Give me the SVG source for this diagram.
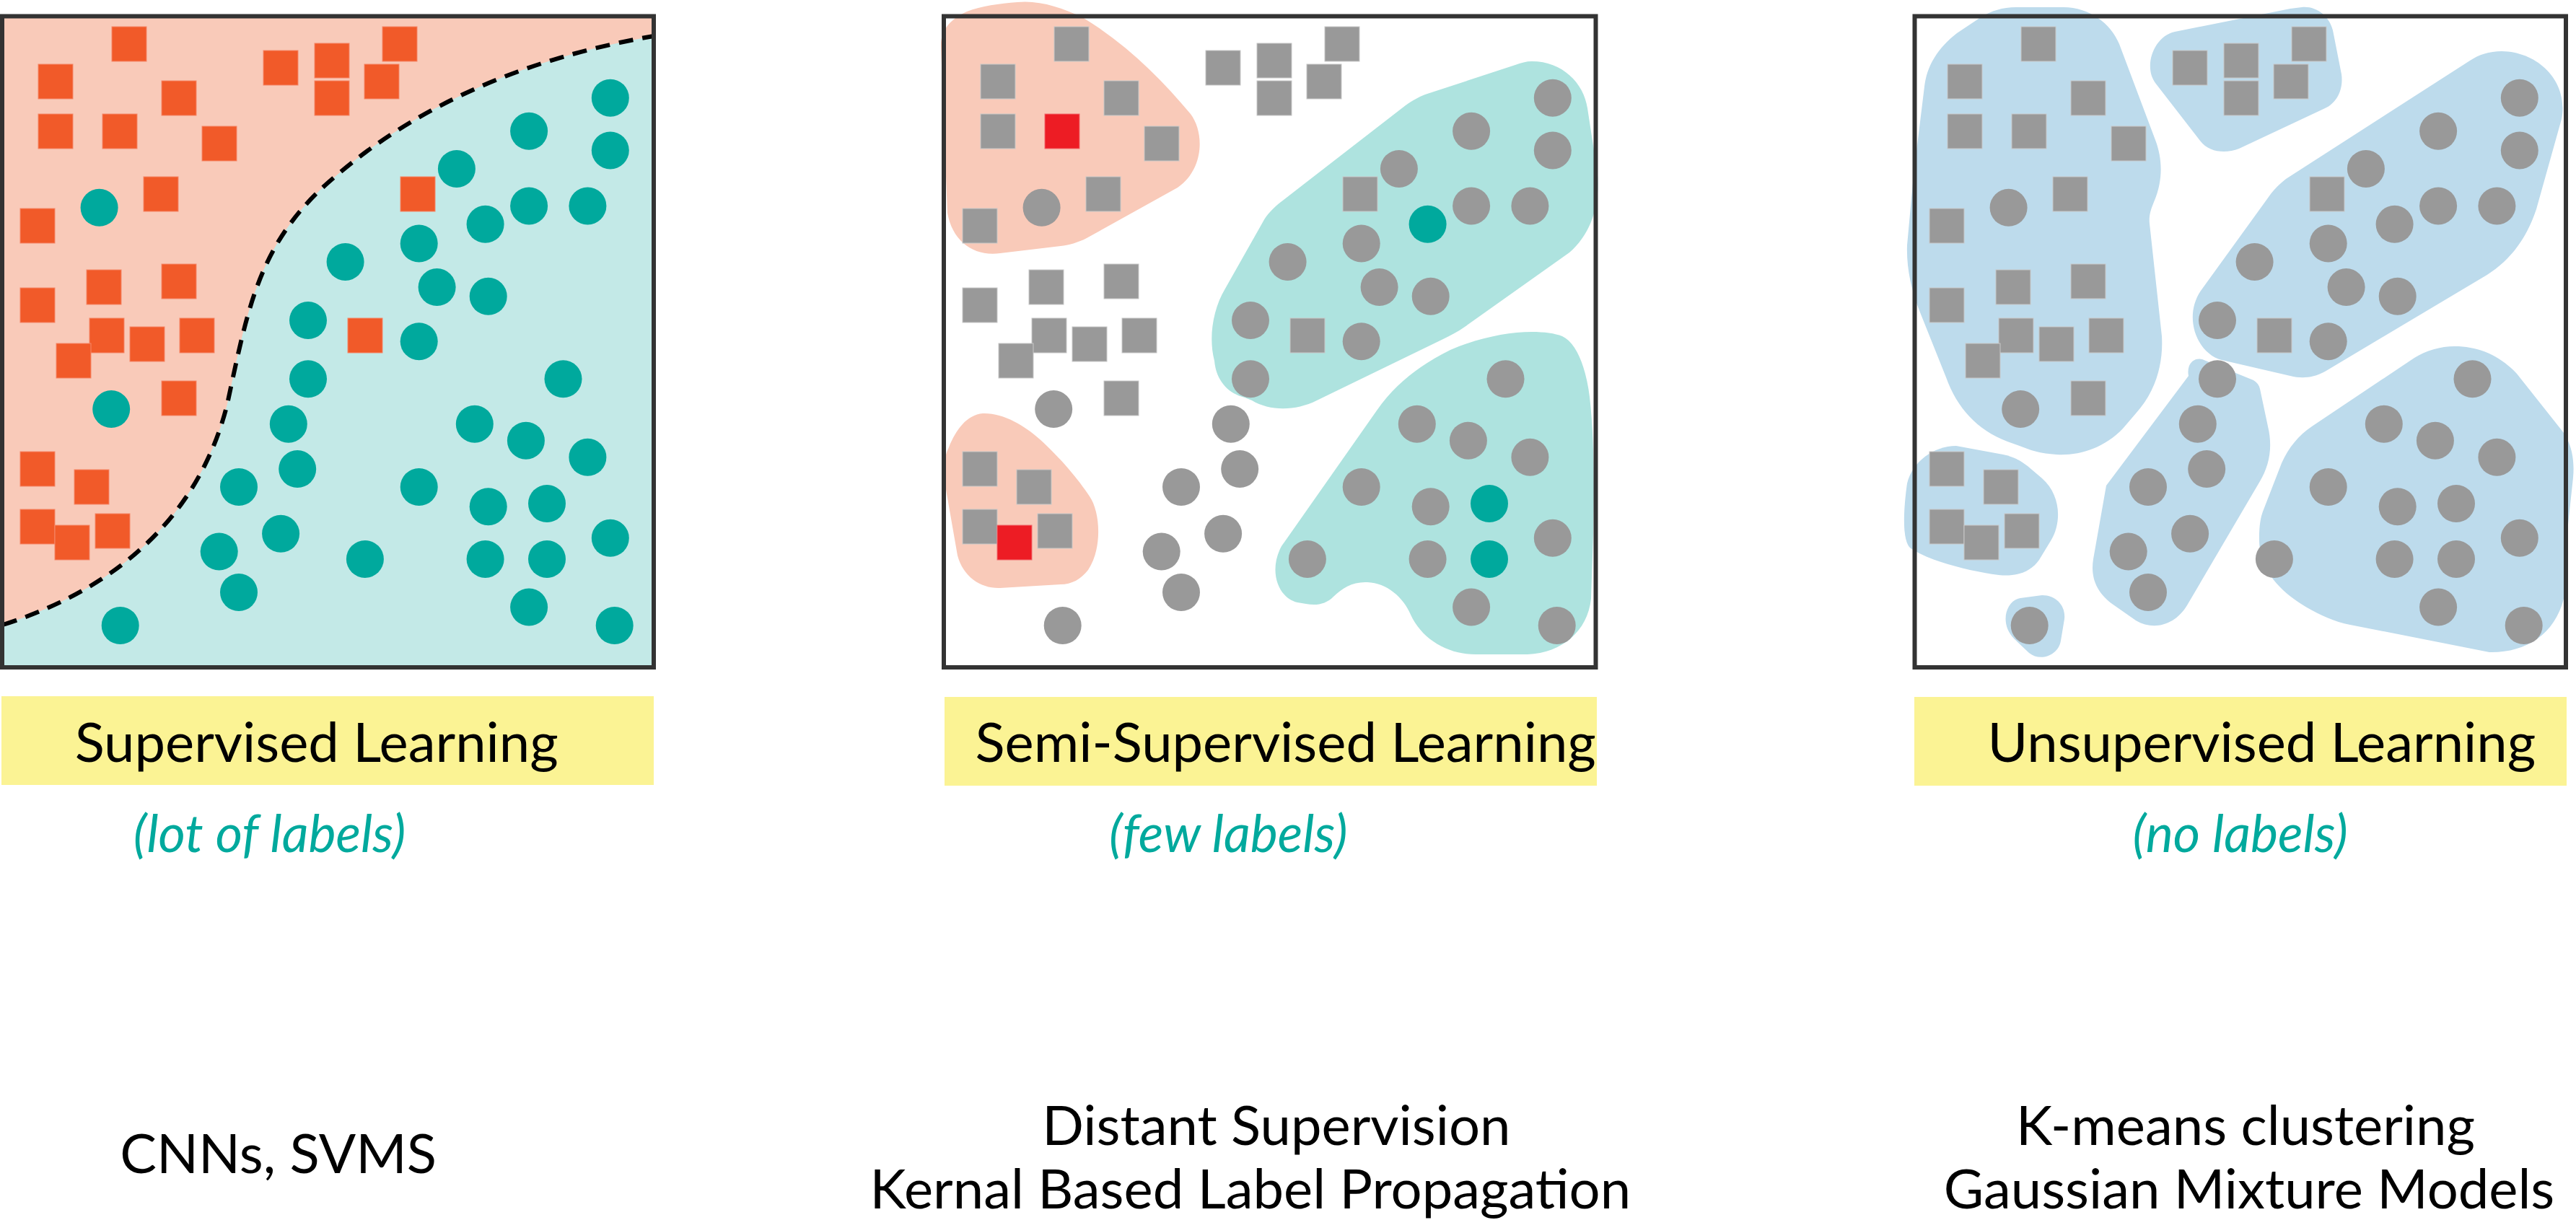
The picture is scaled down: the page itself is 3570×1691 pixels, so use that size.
<svg xmlns="http://www.w3.org/2000/svg" xmlns:xlink="http://www.w3.org/1999/xlink" width="3570" height="1691" viewBox="0 0 3570 1691">
<style>
  .frame{fill:none;stroke:#333333;stroke-width:6}
  .sqO{fill:#F15A29;stroke:#F5876A;stroke-width:1}
  .ciT{fill:#00A99D}
  .sqG{fill:#999999;stroke:#C8C8C8;stroke-width:1}
  .ciG{fill:#999999}
  .sqR{fill:#ED1C24;stroke:#F26A6F;stroke-width:1}
  .pink{fill:#F9CAB9}
  .teal{fill:#AEE3DF}
  .blue{fill:#BDDBEC}
  .lbl{fill:#FBF394}
  .head{font-family:Lato,'Liberation Sans',sans-serif;font-size:76px;fill:#000000;text-anchor:middle}
  .sub{font-family:Lato,'Liberation Sans',sans-serif;font-size:72px;font-style:italic;font-weight:400;fill:#00A99D;text-anchor:middle}
  .algo{font-family:Lato,'Liberation Sans',sans-serif;font-size:76px;font-weight:400;fill:#000000;text-anchor:middle}
</style>
<defs>
  <rect id="sq" width="48" height="48"/>
  <circle id="ci" r="26"/>
  <g id="squares">
    <use xlink:href="#sq" x="155" y="37"/>
    <use xlink:href="#sq" x="53" y="89"/>
    <use xlink:href="#sq" x="224" y="112"/>
    <use xlink:href="#sq" x="53" y="158"/>
    <use xlink:href="#sq" x="280" y="175"/>
    <use xlink:href="#sq" x="365" y="70"/>
    <use xlink:href="#sq" x="436" y="60"/>
    <use xlink:href="#sq" x="436" y="112"/>
    <use xlink:href="#sq" x="505" y="89"/>
    <use xlink:href="#sq" x="530" y="37"/>
    <use xlink:href="#sq" x="199" y="245"/>
    <use xlink:href="#sq" x="28" y="289"/>
    <use xlink:href="#sq" x="28" y="399"/>
    <use xlink:href="#sq" x="120" y="374"/>
    <use xlink:href="#sq" x="224" y="366"/>
    <use xlink:href="#sq" x="124" y="441"/>
    <use xlink:href="#sq" x="78" y="476"/>
    <use xlink:href="#sq" x="180" y="453"/>
    <use xlink:href="#sq" x="249" y="441"/>
    <use xlink:href="#sq" x="224" y="528"/>
    <use xlink:href="#sq" x="28" y="626"/>
    <use xlink:href="#sq" x="103" y="651"/>
    <use xlink:href="#sq" x="28" y="706"/>
    <use xlink:href="#sq" x="132" y="712"/>
    <use xlink:href="#sq" x="555" y="245"/>
    <use xlink:href="#sq" x="482" y="441"/>
  </g>
  <g id="circles">
    <use xlink:href="#ci" x="137.6" y="287.8"/>
    <use xlink:href="#ci" x="154.2" y="567.1"/>
    <use xlink:href="#ci" x="845.8" y="135.7"/>
    <use xlink:href="#ci" x="733.1" y="181.8"/>
    <use xlink:href="#ci" x="845.8" y="208.4"/>
    <use xlink:href="#ci" x="632.9" y="233.9"/>
    <use xlink:href="#ci" x="733.1" y="285.4"/>
    <use xlink:href="#ci" x="814.4" y="285.4"/>
    <use xlink:href="#ci" x="580.7" y="337.5"/>
    <use xlink:href="#ci" x="478.6" y="362.9"/>
    <use xlink:href="#ci" x="605.6" y="398.1"/>
    <use xlink:href="#ci" x="676.7" y="410.8"/>
    <use xlink:href="#ci" x="427" y="444.1"/>
    <use xlink:href="#ci" x="580.7" y="473.2"/>
    <use xlink:href="#ci" x="427" y="525.3"/>
    <use xlink:href="#ci" x="780.5" y="525.3"/>
    <use xlink:href="#ci" x="399.8" y="587.7"/>
    <use xlink:href="#ci" x="657.8" y="587.7"/>
    <use xlink:href="#ci" x="728.9" y="610.7"/>
    <use xlink:href="#ci" x="814.4" y="633.8"/>
    <use xlink:href="#ci" x="412.2" y="650.1"/>
    <use xlink:href="#ci" x="331" y="675"/>
    <use xlink:href="#ci" x="580.7" y="675"/>
    <use xlink:href="#ci" x="676.7" y="702.2"/>
    <use xlink:href="#ci" x="389.1" y="739.8"/>
    <use xlink:href="#ci" x="845.8" y="745.8"/>
    <use xlink:href="#ci" x="303.7" y="764.6"/>
    <use xlink:href="#ci" x="505.9" y="774.9"/>
    <use xlink:href="#ci" x="672.6" y="774.9"/>
    <use xlink:href="#ci" x="331" y="821"/>
    <use xlink:href="#ci" x="733.1" y="841.6"/>
    <use xlink:href="#ci" x="166.7" y="867"/>
    <use xlink:href="#ci" x="851.7" y="867"/>
  </g>
  <g id="specialSq">
    <use xlink:href="#sq" x="142" y="158"/>
    <use xlink:href="#sq" x="76" y="728"/>
  </g>
  <g id="specialCi">
    <use xlink:href="#ci" x="672.6" y="310.8"/>
    <use xlink:href="#ci" x="758" y="698"/>
    <use xlink:href="#ci" x="758" y="774.9"/>
  </g>
</defs>

<!-- Panel 1: Supervised -->
<g id="panel-supervised">
  <rect x="3" y="22.5" width="903" height="902.5" fill="#C3E9E7"/>
  <path class="pink" d="M 4,866 C 180,810 280,700 315,560 C 345,420 360,330 470,240 C 600,130 760,75 906,50 L 906,22 L 4,22 Z"/>
  <path d="M 4,866 C 180,810 280,700 315,560 C 345,420 360,330 470,240 C 600,130 760,75 906,50" fill="none" stroke="#000000" stroke-width="6" stroke-dasharray="20 13"/>
  <g class="sqO">
    <use xlink:href="#squares"/>
    <use xlink:href="#specialSq"/>
  </g>
  <g class="ciT">
    <use xlink:href="#circles"/>
    <use xlink:href="#specialCi"/>
  </g>
  <rect class="frame" x="3" y="22.5" width="903" height="902.5"/>
</g>

<!-- Panel 2: Semi-supervised -->
<g id="panel-semi">
  <path class="pink" d="M 1410,3 C 1440,0 1470,10 1500,24 C 1560,60 1610,110 1650,158 C 1670,185 1668,235 1632,260 L 1506,330 C 1495,336 1480,340 1470,341 L 1386,351 C 1350,356 1320,335 1313,295 L 1304,65 C 1303,40 1320,25 1340,16 C 1360,8 1385,5 1410,3 Z"/>
  <path class="pink" d="M 1362,573 C 1390,572 1420,590 1440,608 C 1470,635 1495,665 1510,688 C 1525,710 1528,760 1508,790 C 1498,803 1485,810 1470,810 L 1386,815 C 1360,816 1335,800 1327,770 L 1313,690 C 1308,660 1305,640 1315,620 C 1325,595 1340,575 1362,573 Z"/>
  <path class="teal" d="M 2123,85 C 2165,85 2195,115 2200,150 L 2210,215 C 2222,270 2210,320 2175,350 L 2030,453 C 2020,460 2010,465 2000,470 L 1825,555 C 1795,570 1760,570 1735,555 L 1725,551 C 1700,545 1685,525 1683,500 C 1675,470 1680,430 1698,400 L 1750,308 C 1755,298 1765,288 1775,280 L 1948,146 C 1958,139 1965,135 1975,131 L 2100,90 C 2108,87 2115,85 2123,85 Z"/>
  <path class="teal" d="M 2123,460 C 2140,460 2155,462 2165,466 C 2185,475 2198,510 2203,550 C 2210,610 2209,680 2208,740 L 2205,830 C 2200,875 2165,905 2117,907 L 2045,907 C 2005,907 1970,885 1955,852 C 1945,828 1922,808 1895,807 C 1875,806 1860,815 1848,827 C 1838,837 1825,840 1810,837 L 1798,835 C 1770,828 1758,790 1776,757 L 1908,569 C 1935,530 1970,505 2010,485 C 2050,468 2090,460 2123,460 Z"/>
  <g transform="translate(1306,0)">
    <use class="sqG" xlink:href="#squares"/>
    <use class="sqR" xlink:href="#specialSq"/>
    <use class="ciG" xlink:href="#circles"/>
    <use class="ciT" xlink:href="#specialCi"/>
  </g>
  <rect class="frame" x="1308" y="22.5" width="903.5" height="902.5"/>
</g>

<!-- Panel 3: Unsupervised -->
<g id="panel-unsupervised">
  <path class="blue" d="M 2794,10 L 2860,10 C 2895,10 2925,32 2937,61 L 2987,194 C 2997,220 2998,250 2985,280 C 2980,292 2978,300 2979,310 L 2996,466 C 2998,500 2990,540 2960,573 L 2942,594 C 2915,622 2880,632 2850,630 C 2835,629 2825,627 2815,624 L 2782,612 C 2740,596 2712,565 2697,523 L 2661,433 C 2648,400 2642,370 2643,340 L 2652,242 L 2667,120 C 2670,92 2685,67 2712,46 L 2745,24 C 2760,15 2775,10 2794,10 Z"/>
  <path class="blue" d="M 3174,12 L 3190,10 C 3210,8 3228,22 3233,42 L 3245,103 C 3248,125 3238,145 3218,152 L 3103,206 C 3085,213 3062,212 3049,195 L 2987,115 C 2970,92 2985,50 3014,44 Z"/>
  <path class="blue" d="M 3467,71 C 3520,72 3560,115 3550,165 L 3515,290 C 3500,335 3475,365 3440,385 L 3222,515 C 3205,524 3190,525 3174,521 L 3079,499 C 3045,490 3025,440 3050,403 L 3144,273 C 3150,264 3158,256 3168,248 L 3423,84 C 3435,76 3450,71 3467,71 Z"/>
  <path class="blue" d="M 2711,618 L 2776,630 C 2790,633 2800,638 2810,646 L 2830,663 C 2855,685 2858,722 2843,748 L 2826,776 C 2815,792 2795,800 2770,797 C 2745,794 2715,787 2690,779 C 2675,774 2660,768 2648,760 C 2638,753 2636,720 2643,670 C 2650,640 2680,618 2711,618 Z"/>
  <path class="blue" d="M 2830,825 C 2850,825 2863,840 2861,858 L 2856,888 C 2853,908 2828,918 2812,905 L 2792,886 C 2770,865 2780,832 2800,829 Z"/>
  <path class="blue" d="M 3052,498 L 3091,514 L 3123,527 C 3128,530 3131,534 3132,539 L 3143,591 C 3150,620 3145,645 3132,667 L 3031,839 C 3015,866 2985,875 2960,860 L 2930,839 C 2905,822 2897,800 2901,775 L 2919,673 L 3033,521 C 3030,505 3040,495 3052,498 Z"/>
  <path class="blue" d="M 3402,480 C 3435,480 3465,493 3488,518 L 3553,600 C 3565,618 3568,640 3566,662 L 3559,727 L 3553,830 C 3540,880 3500,905 3450,904 L 3257,866 C 3235,862 3215,852 3197,842 C 3160,820 3130,790 3131,745 C 3131,728 3133,717 3136,709 L 3162,642 C 3172,620 3185,604 3204,591 L 3346,496 C 3362,486 3382,480 3402,480 Z"/>
  <g transform="translate(2646,0)">
    <use class="sqG" xlink:href="#squares"/>
    <use class="sqG" xlink:href="#specialSq"/>
    <use class="ciG" xlink:href="#circles"/>
    <use class="ciG" xlink:href="#specialCi"/>
  </g>
  <rect class="frame" x="2653.5" y="22.5" width="902.5" height="902.5"/>
</g>

<!-- Labels -->
<g id="label-supervised">
  <rect class="lbl" x="2" y="965" width="904" height="123"/>
  <text class="head" x="438.7" y="1056">Supervised Learning</text>
  <text class="sub" x="373.5" y="1181">(lot of labels)</text>
  <text class="algo" x="385.6" y="1626">CNNs, SVMS</text>
</g>
<g id="label-semi">
  <rect class="lbl" x="1309" y="966" width="904" height="123"/>
  <text class="head" x="1781.7" y="1056">Semi-Supervised Learning</text>
  <text class="sub" x="1702.3" y="1181">(few labels)</text>
  <text class="algo" x="1768.9" y="1587">Distant Supervision</text>
  <text class="algo" x="1732.8" y="1675">Kernal Based Label Propagation</text>
</g>
<g id="label-unsupervised">
  <rect class="lbl" x="2653" y="966" width="904" height="123"/>
  <text class="head" x="3134.4" y="1056">Unsupervised Learning</text>
  <text class="sub" x="3104.7" y="1181">(no labels)</text>
  <text class="algo" x="3112" y="1587">K-means clustering</text>
  <text class="algo" x="3117" y="1675">Gaussian Mixture Models</text>
</g>
</svg>
